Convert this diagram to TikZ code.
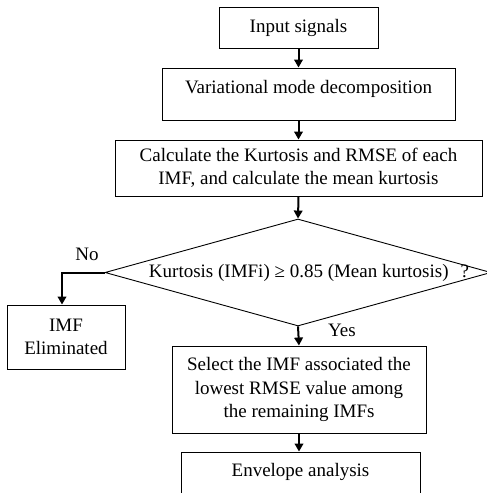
\documentclass[tikz,border=0pt]{standalone}
\usepackage{fontspec}
\setmainfont{Liberation Serif}
\usetikzlibrary{arrows.meta,shapes.geometric}

\begin{document}
\begin{tikzpicture}[x=1pt,y=-1pt,
  font=\fontsize{19}{23.5}\selectfont,
  box/.style={draw,line width=0.9pt,inner sep=0pt,align=center},
  flow/.style={line width=2pt,-{Triangle[length=8pt,width=8.5pt]}},
  decision/.style={draw,line width=0.9pt,shape=diamond,aspect=3.6,inner sep=0pt,
    minimum width=386pt,minimum height=107pt}]
\useasboundingbox (0,0) rectangle (487,493);

\node[box,minimum width=159pt,minimum height=41pt] (input) at (298.5,27.5) {Input signals};
\node[box,minimum width=293pt,text height=25pt,text depth=27pt] (vmd) at (308.5,94) {Variational mode decomposition};
\node[box,minimum width=367pt,minimum height=56pt] (kurt) at (298.5,168)
  {Calculate the Kurtosis and RMSE of each\\IMF, and calculate the mean kurtosis};
\node[decision] (dec) at (298,272.5) {};
\node (dectext) at (309,273) {Kurtosis (IMFi) ≥ 0.85 (Mean kurtosis)\hspace{12pt}?};
\node[box,minimum width=118pt,minimum height=64pt] (elim) at (66,337) {IMF\\Eliminated};
\node[box,minimum width=254pt,minimum height=87pt] (sel) at (299,389.5)
  {Select the IMF associated the\\lowest RMSE value among\\the remaining IMFs};
\node[box,minimum width=239pt,text height=24pt,text depth=28pt] (env) at (300.5,478) {Envelope analysis};

\node (no) at (87,254) {No};
\node (yes) at (342,330) {Yes};

\draw[flow] (input) -- (input |- vmd.north);
\draw[flow] (vmd.south -| input) -- (input |- kurt.north);
\draw[flow] (kurt.south) -- (dec.north);
\draw[flow] (dec.west) -| ([xshift=-4pt]elim.north);
\draw[flow] (dec.south) -- (sel.north);
\draw[flow] (sel.south) -- (sel.south |- env.north);

\end{tikzpicture}
\end{document}
